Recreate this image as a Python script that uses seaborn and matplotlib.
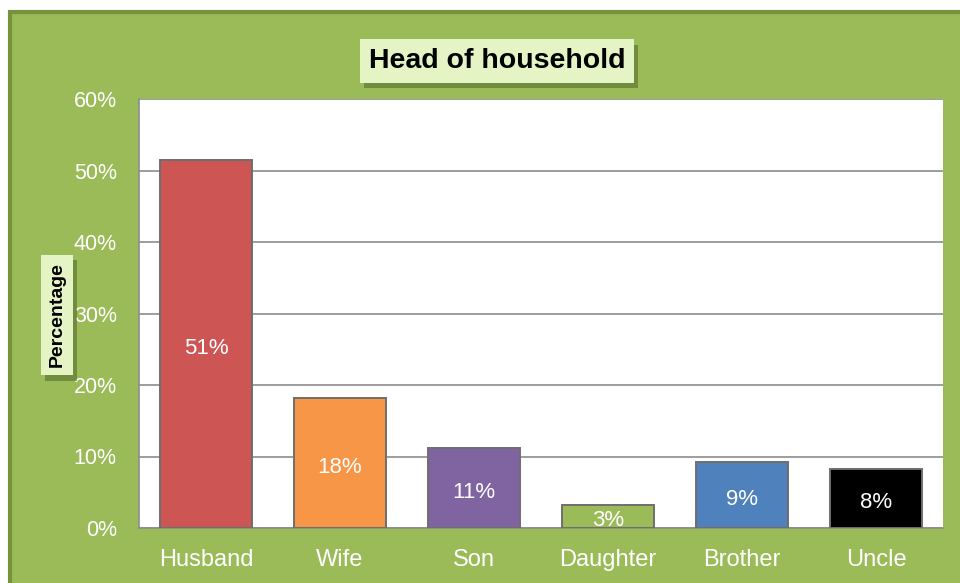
import matplotlib
matplotlib.use("Agg")
import matplotlib.pyplot as plt
import matplotlib.patheffects as pe
from matplotlib.patches import Rectangle
import seaborn as sns
import pandas as pd

categories = ["Husband", "Wife", "Son", "Daughter", "Brother", "Uncle"]
values = [51.4, 18.2, 11.2, 3.2, 9.2, 8.2]
value_labels = ["51%", "18%", "11%", "3%", "9%", "8%"]
bar_colors = ["#CD5654", "#F79646", "#8064A2", "#9BBB59", "#4F81BD", "#000000"]
yticks = [0, 10, 20, 30, 40, 50, 60]

GREEN = "#9BBB59"
DARK_GREEN = "#76923C"
BOX = "#E4F4C4"

sns.set_style("white")
plt.rcParams["font.family"] = ["Liberation Sans", "DejaVu Sans"]

df = pd.DataFrame({"relation": categories, "pct": values})

fig = plt.figure(figsize=(9.6, 5.83), dpi=100)
fig.patch.set_facecolor("white")

# green chart background with dark border on left/top (cut off at right and bottom)
bg = Rectangle((10 / 960, -0.05), 1, (583 - 12) / 583 + 0.05, transform=fig.transFigure,
               facecolor=GREEN, edgecolor=DARK_GREEN, linewidth=3, zorder=-10)
fig.patches.append(bg)

ax = fig.add_axes([139 / 960, (583 - 528) / 583, 804 / 960, 429 / 583])
ax.set_zorder(1)
ax.set_facecolor("white")

sns.barplot(data=df, x="relation", y="pct", hue="relation", palette=bar_colors,
            saturation=1, width=0.68, legend=False, ax=ax, zorder=3,
            edgecolor="#6e6e6e", linewidth=1.4)

for container, lab in zip(ax.containers, value_labels):
    ax.bar_label(container, labels=[lab], label_type="center", color="white",
                 fontsize=16, padding=-3)

ax.set_ylim(0, 60)
ax.set_yticks(yticks)
ax.set_yticklabels([f"{t}%" for t in yticks])
ax.yaxis.grid(True, color="#8c8c8c", linewidth=1.2, zorder=0)
ax.set_axisbelow(True)
ax.tick_params(axis="y", colors="white", labelsize=15.5, length=0, pad=16)
ax.tick_params(axis="x", colors="white", labelsize=17, length=0, pad=15)
ax.set_xlabel("")
ax.set_ylabel("")
for side in ["top", "right"]:
    ax.spines[side].set_visible(False)
for side in ["left", "bottom"]:
    ax.spines[side].set_color("#8c8c8c")
    ax.spines[side].set_linewidth(1.2)

shadow = [pe.SimplePatchShadow(offset=(3, -4), shadow_rgbFace="#4f6626", alpha=0.55), pe.Normal()]

title = fig.text(497 / 960, 1 - 61 / 583, "Head of household", ha="center", va="center",
                 fontsize=20.5, fontweight="bold", color="black",
                 bbox=dict(boxstyle="square,pad=0.3", facecolor=BOX, edgecolor="none"))
title.get_bbox_patch().set_path_effects(shadow)

ylab = fig.text(57 / 960, 1 - 315 / 583, "Percentage", ha="center", va="center", rotation=90,
                fontsize=14, fontweight="bold", color="black",
                bbox=dict(boxstyle="square,pad=0.4", facecolor=BOX, edgecolor="none"))
ylab.get_bbox_patch().set_path_effects(shadow)

fig.savefig("out.png", dpi=100, facecolor=fig.get_facecolor())
